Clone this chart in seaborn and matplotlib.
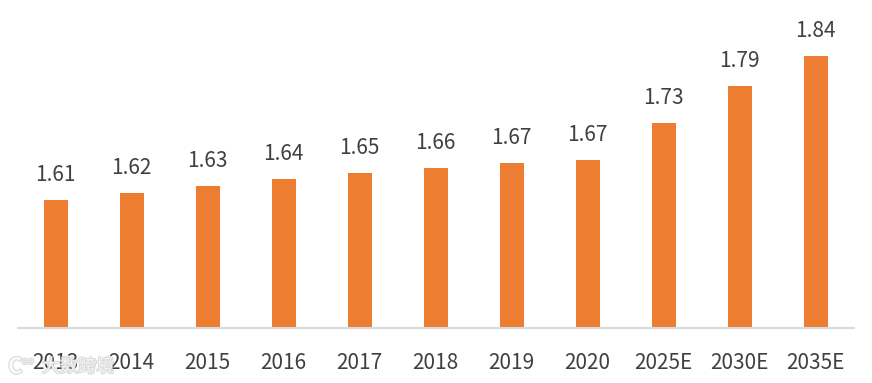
import matplotlib
matplotlib.use("Agg")
import matplotlib.pyplot as plt
import matplotlib.patheffects as pe
import seaborn as sns
import pandas as pd

years = ["2013","2014","2015","2016","2017","2018","2019","2020","2025E","2030E","2035E"]
values = [1.610,1.621,1.632,1.644,1.653,1.661,1.669,1.674,1.733,1.792,1.840]
axis_floor = 1.4055
axis_top = 1.9295

sns.set_theme(style="white")
plt.rcParams['font.family'] = ['Noto Sans CJK SC', 'DejaVu Sans']
fig = plt.figure(figsize=(8.72,3.83), dpi=100)
ax = fig.add_axes([18/872, 1-328/383, (854-18)/872, 328/383])
df = pd.DataFrame({"year":years,"value":values})
sns.barplot(data=df,x="year",y="value",color="#ED7D31",saturation=1,width=0.32,linewidth=0,ax=ax)
ax.set_ylim(axis_floor,axis_top)
ax.set_xlim(-0.5,10.5)
ax.set_xlabel("");ax.set_ylabel("")
ax.set_yticks([])
for s in ["top","left","right"]:
    ax.spines[s].set_visible(False)
ax.spines["bottom"].set_color("#D9D9D9")
ax.spines["bottom"].set_linewidth(1.5)
ax.tick_params(axis="x",length=0,pad=17,labelsize=15,labelcolor="#404040")
for label in ax.get_xticklabels():
    label.set_transform(label.get_transform() + matplotlib.transforms.Affine2D().translate(-1, 0))
for i,v in enumerate(values):
    ax.annotate(f"{v:.2f}",(i,v),xytext=(-1,14),textcoords="offset pixels",ha="center",va="bottom",fontsize=15,color="#404040")

halo = [pe.withStroke(linewidth=1.4,foreground="#D0D0D0",alpha=0.8)]
fig.text(42/872,1-367/383,"大数跨境",fontsize=13,color="#ffffff",alpha=0.7,va="center",path_effects=halo)
fig.text(8/872,1-367/383,"C",fontsize=16,fontweight="bold",color="#ffffff",alpha=0.7,va="center",path_effects=halo)
fig.text(22/872,1-361/383,"oo",fontsize=7,color="#ffffff",alpha=0.7,va="center",path_effects=halo)
fig.savefig("out.png",dpi=100)
